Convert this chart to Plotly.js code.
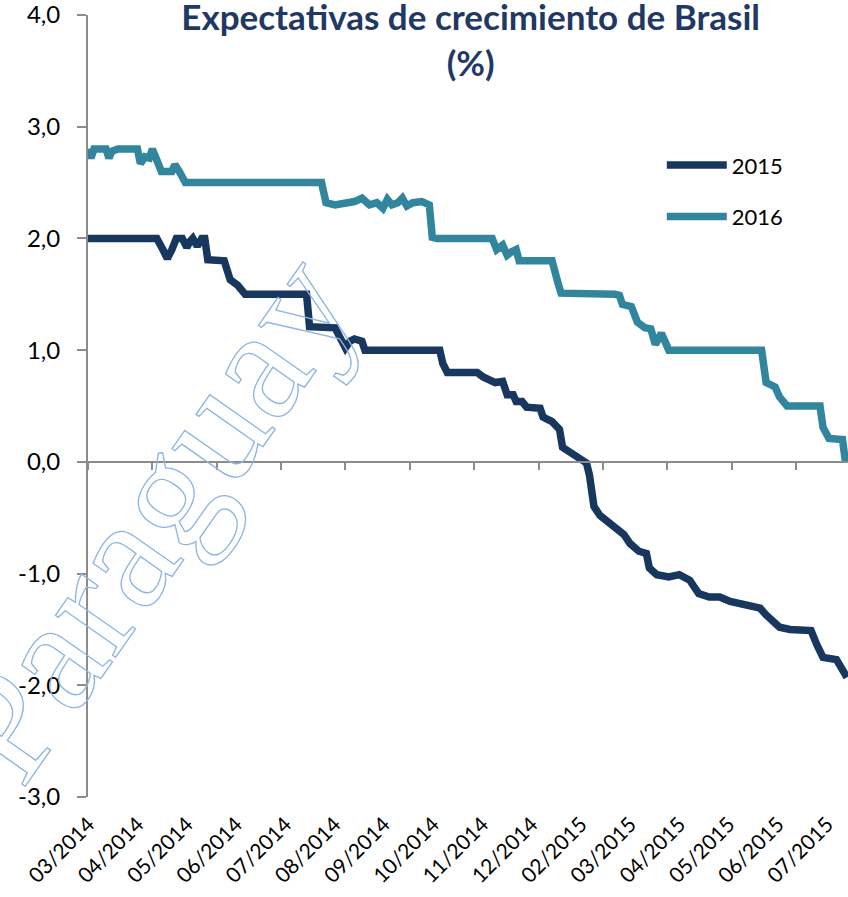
<!DOCTYPE html>
<html>
<head>
<meta charset="utf-8">
<script src="https://cdn.plot.ly/plotly-3.0.1.min.js"></script>
<style>html,body{margin:0;padding:0;background:#fff;}#chart{width:848px;height:897px;}</style>
</head>
<body>
<div id="chart"></div>
<script>
// ---- Data ----
const dates2015 = ['2014-03-01','2014-04-16','2014-04-20','2014-04-23','2014-04-26','2014-04-29','2014-05-03','2014-05-06','2014-05-08','2014-05-10','2014-05-13','2014-05-16','2014-05-18','2014-05-20','2014-05-31','2014-06-04','2014-06-09','2014-06-14','2014-07-25','2014-07-27','2014-08-13','2014-08-20','2014-08-23','2014-08-26','2014-08-31','2014-09-02','2014-10-22','2014-10-24','2014-10-27','2014-11-16','2014-11-20','2014-11-24','2014-11-28','2014-12-03','2014-12-06','2014-12-10','2014-12-12','2014-12-16','2014-12-19','2014-12-28','2014-12-30','2015-01-05','2015-01-10','2015-01-12','2015-01-17','2015-01-22','2015-01-28','2015-01-30','2015-02-02','2015-02-06','2015-02-12','2015-02-18','2015-02-22','2015-02-26','2015-03-04','2015-03-09','2015-03-11','2015-03-16','2015-03-24','2015-03-31','2015-04-07','2015-04-10','2015-04-13','2015-04-20','2015-04-27','2015-05-04','2015-05-15','2015-05-24','2015-05-28','2015-06-03','2015-06-06','2015-06-13','2015-06-27','2015-07-01','2015-07-05','2015-07-14','2015-07-18','2015-07-21'];
const values2015 = [2.0,2.0,1.9,1.82,1.9,2.0,2.0,1.92,1.97,2.0,1.93,2.0,2.0,1.81,1.80,1.63,1.58,1.50,1.50,1.21,1.20,1.02,1.08,1.10,1.08,1.0,1.0,0.88,0.80,0.80,0.76,0.73,0.71,0.72,0.60,0.60,0.54,0.54,0.49,0.48,0.40,0.36,0.29,0.13,0.09,0.04,-0.01,-0.12,-0.40,-0.48,-0.55,-0.62,-0.65,-0.73,-0.80,-0.82,-0.95,-1.01,-1.03,-1.01,-1.06,-1.12,-1.18,-1.21,-1.21,-1.25,-1.28,-1.31,-1.37,-1.43,-1.48,-1.50,-1.51,-1.64,-1.75,-1.77,-1.86,-1.93];

const dates2016 = ['2014-03-01','2014-03-03','2014-03-05','2014-03-13','2014-03-15','2014-03-17','2014-03-21','2014-04-03','2014-04-05','2014-04-08','2014-04-11','2014-04-13','2014-04-16','2014-04-19','2014-04-26','2014-04-28','2014-05-01','2014-05-05','2014-08-04','2014-08-07','2014-08-13','2014-08-19','2014-08-26','2014-08-31','2014-09-05','2014-09-10','2014-09-14','2014-09-17','2014-09-20','2014-09-24','2014-09-27','2014-09-30','2014-10-04','2014-10-10','2014-10-15','2014-10-17','2014-10-20','2014-11-26','2014-11-29','2014-12-03','2014-12-06','2014-12-09','2014-12-12','2014-12-14','2015-01-05','2015-01-09','2015-01-11','2015-02-16','2015-02-19','2015-02-21','2015-02-27','2015-03-03','2015-03-08','2015-03-12','2015-03-15','2015-03-19','2015-03-24','2015-05-25','2015-05-28','2015-06-03','2015-06-06','2015-06-11','2015-07-03','2015-07-05','2015-07-09','2015-07-18','2015-07-20'];
const values2016 = [2.8,2.72,2.8,2.8,2.72,2.78,2.8,2.8,2.67,2.73,2.72,2.8,2.7,2.6,2.6,2.66,2.6,2.5,2.5,2.32,2.3,2.31,2.33,2.36,2.3,2.32,2.27,2.35,2.30,2.32,2.36,2.29,2.32,2.33,2.30,2.01,2.0,2.0,1.90,1.94,1.85,1.88,1.90,1.80,1.80,1.60,1.51,1.50,1.49,1.41,1.39,1.25,1.20,1.19,1.05,1.15,1.0,1.0,0.71,0.67,0.58,0.50,0.50,0.31,0.21,0.20,0.0];

const seriesNames = ['2015','2016'];
const xTickLabels = ['03/2014','04/2014','05/2014','06/2014','07/2014','08/2014','09/2014','10/2014','11/2014','12/2014','02/2015','03/2015','04/2015','05/2015','06/2015','07/2015'];
const yTickValues = [-3,-2,-1,0,1,2,3,4];
const yTickLabels = ['-3,0','-2,0','-1,0','0,0','1,0','2,0','3,0','4,0'];
const chartTitle = 'Expectativas de crecimiento de Brasil<br>(%)';
const watermarkText = 'Paraguay';

// ---- Layout helpers (positions only) ----
const DAY = 864e5;
const startMs = Date.UTC(2014, 2, 1);
const iso = ms => new Date(ms).toISOString().slice(0, 19).replace('T', ' ');
const xRange = [iso(startMs), iso(startMs + 507.7 * DAY)];
const labelStep = 32.9 * DAY;
const xTickVals = xTickLabels.map((_, k) => iso(startMs + 0.3 * DAY + k * labelStep));

const FONT = 'Lato, "Open Sans", sans-serif';
const GREY = '#8c8c8c';
const NAVY = '#17375E';
const TEAL = '#31859C';

const traces = [
  {x: dates2015, y: values2015, name: seriesNames[0], type: 'scatter', mode: 'lines',
   line: {color: NAVY, width: 7.5}, xaxis: 'x', yaxis: 'y', legend: 'legend'},
  {x: dates2016, y: values2016, name: seriesNames[1], type: 'scatter', mode: 'lines',
   line: {color: TEAL, width: 7.5}, xaxis: 'x2', yaxis: 'y', legend: 'legend2'}
];

const legendCommon = {xanchor: 'left', yanchor: 'middle', bgcolor: 'rgba(0,0,0,0)',
  font: {family: FONT, size: 22, color: '#000'}, itemwidth: 60};

const layout = {
  width: 848, height: 897,
  margin: {l: 88, r: 0, t: 15, b: 100, pad: 0},
  paper_bgcolor: '#fff', plot_bgcolor: '#fff',
  font: {family: FONT, color: '#000'},
  title: {text: chartTitle, font: {family: FONT, size: 35, color: '#1F3864', weight: 'bold'},
          xref: 'container', x: 0.555, xanchor: 'center', yref: 'container', y: 0.9665, yanchor: 'top', pad: {t: 0}},
  xaxis: {type: 'date', range: xRange, showgrid: false, zeroline: false, showline: false,
          ticks: '', tickmode: 'array', tickvals: xTickVals, ticktext: xTickLabels,
          tickangle: -45, tickfont: {family: FONT, size: 21, color: '#000'}, ticklabelstandoff: 10,
          ticklabeloverflow: 'allow'},
  xaxis2: {type: 'date', matches: 'x', overlaying: 'x', anchor: 'free', position: 3 / 7,
           showgrid: false, zeroline: false, showline: true, linecolor: GREY, linewidth: 2,
           ticks: 'outside', ticklen: 7, tickwidth: 2, tickcolor: GREY,
           tick0: xRange[0], dtick: 43.0 * DAY, showticklabels: false},
  yaxis: {range: [-3, 4], showgrid: false, zeroline: false, showline: true, linecolor: GREY, linewidth: 2,
          ticks: 'outside', ticklen: 9, tickwidth: 2, tickcolor: GREY,
          tickmode: 'array', tickvals: yTickValues, ticktext: yTickLabels,
          tickfont: {family: FONT, size: 24, color: '#000'}, ticklabelstandoff: 12,
          ticklabeloverflow: 'allow'},
  legend: Object.assign({x: 0.755, y: 0.808}, legendCommon),
  legend2: Object.assign({x: 0.755, y: 0.742}, legendCommon),
  annotations: [{
    text: watermarkText, xref: 'paper', yref: 'paper', x: 0.080, y: 0.359,
    xanchor: 'center', yanchor: 'middle', showarrow: false, textangle: -55,
    font: {family: '"Liberation Serif", "DejaVu Serif", serif', size: 160, color: 'rgba(141,180,226,0.15)'}
  }],
  showlegend: true
};

Plotly.newPlot('chart', traces, layout, {displayModeBar: false, staticPlot: true}).then(gd => {
  // draw the watermark as an outline, like the reference
  gd.querySelectorAll('.annotation-text').forEach(el => {
    el.style.fill = 'none';
    el.style.stroke = '#8DB4E2';
    el.style.strokeWidth = '1.3px';
  });
});
</script>
</body>
</html>
